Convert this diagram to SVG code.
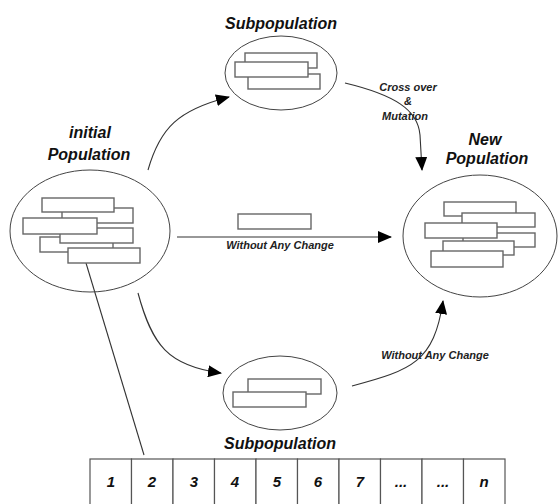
<svg xmlns="http://www.w3.org/2000/svg" width="560" height="504" viewBox="0 0 560 504">
<defs>
<style>
.ell{fill:none;stroke:#444;stroke-width:1}
.chr{fill:#fff;stroke:#666;stroke-width:1.4}
.con{fill:none;stroke:#333;stroke-width:1.1}
.lbl{font-family:"Liberation Sans",Arial,sans-serif;font-weight:bold;font-style:italic;font-size:16px;fill:#111;text-anchor:middle}
.sm{font-family:"Liberation Sans",Arial,sans-serif;font-weight:bold;font-style:italic;font-size:11px;fill:#222;text-anchor:middle}
.cell{fill:#fff;stroke:#555;stroke-width:1.2}
.num{font-family:"Liberation Sans",Arial,sans-serif;font-weight:bold;font-style:italic;font-size:15px;fill:#111;text-anchor:middle}
</style>
<marker id="arr" markerUnits="userSpaceOnUse" markerWidth="14" markerHeight="12" viewBox="0 0 14 12" refX="13" refY="6" orient="auto">
<path d="M0,0 L14,6 L0,12 Z" fill="#000"/>
</marker>
</defs>
<rect width="560" height="504" fill="#fff"/>

<g id="connectors">
<path class="con" d="M148,170 C160,128 178,110 229,97" marker-end="url(#arr)"/>
<path class="con" d="M138,293 C152,345 168,366 221,373" marker-end="url(#arr)"/>
<path class="con" d="M177,237 L391,237" marker-end="url(#arr)"/>
<path class="con" d="M345,83 C395,95 418,110 420,135 L422,170" marker-end="url(#arr)"/>
<path class="con" d="M352,386 C412,370 434,362 443,301" marker-end="url(#arr)"/>
<path class="con" d="M86,263 L144,455"/>
</g>

<g id="initial-population">
<text class="lbl" x="90" y="138">initial</text>
<text class="lbl" x="89" y="160">Population</text>
<ellipse class="ell" cx="90" cy="231" rx="80" ry="61"/>
<rect class="chr" x="62" y="208" width="71" height="15"/>
<rect class="chr" x="40" y="237" width="73" height="15"/>
<rect class="chr" x="60" y="228" width="73" height="15"/>
<rect class="chr" x="23" y="218" width="74" height="16"/>
<rect class="chr" x="42" y="198" width="72" height="14"/>
<rect class="chr" x="68" y="248" width="72" height="15"/>
</g>

<g id="subpopulation-top">
<text class="lbl" x="281" y="29">Subpopulation</text>
<ellipse class="ell" cx="281" cy="73" rx="56" ry="37"/>
<rect class="chr" x="245" y="53" width="72" height="15"/>
<rect class="chr" x="248" y="74" width="72" height="15"/>
<rect class="chr" x="235" y="62" width="73" height="15"/>
</g>

<g id="middle-chromosome">
<rect class="chr" x="238" y="214" width="73" height="15"/>
<text class="sm" x="280" y="249">Without Any Change</text>
</g>

<g id="crossover-label">
<text class="sm" x="408" y="91">Cross over</text>
<text class="sm" x="408" y="105">&amp;</text>
<text class="sm" x="405" y="120">Mutation</text>
</g>

<g id="new-population">
<text class="lbl" x="485" y="145">New</text>
<text class="lbl" x="487" y="164">Population</text>
<ellipse class="ell" cx="480" cy="236" rx="77" ry="61"/>
<rect class="chr" x="444" y="202" width="72" height="14"/>
<rect class="chr" x="462" y="213" width="73" height="14"/>
<rect class="chr" x="463" y="233" width="72" height="14"/>
<rect class="chr" x="425" y="223" width="72" height="15"/>
<rect class="chr" x="443" y="241" width="71" height="14"/>
<rect class="chr" x="431" y="251" width="72" height="16"/>
</g>

<g id="subpopulation-bottom">
<ellipse class="ell" cx="280" cy="393" rx="57" ry="37"/>
<rect class="chr" x="248" y="379" width="73" height="15"/>
<rect class="chr" x="233" y="392" width="73" height="15"/>
<text class="lbl" x="280" y="449">Subpopulation</text>
<text class="sm" x="435" y="359">Without Any Change</text>
</g>

<g id="chromosome-table">
<rect class="cell" x="90" y="459" width="41.5" height="50"/>
<rect class="cell" x="131.5" y="459" width="41.5" height="50"/>
<rect class="cell" x="173" y="459" width="41.5" height="50"/>
<rect class="cell" x="214.5" y="459" width="41.5" height="50"/>
<rect class="cell" x="256" y="459" width="41.5" height="50"/>
<rect class="cell" x="297.5" y="459" width="41.5" height="50"/>
<rect class="cell" x="339" y="459" width="41.5" height="50"/>
<rect class="cell" x="380.5" y="459" width="41.5" height="50"/>
<rect class="cell" x="422" y="459" width="41.5" height="50"/>
<rect class="cell" x="463.5" y="459" width="41.5" height="50"/>
<text class="num" x="111" y="487">1</text>
<text class="num" x="152" y="487">2</text>
<text class="num" x="194" y="487">3</text>
<text class="num" x="235" y="487">4</text>
<text class="num" x="277" y="487">5</text>
<text class="num" x="318" y="487">6</text>
<text class="num" x="360" y="487">7</text>
<text class="num" x="401" y="487">...</text>
<text class="num" x="443" y="487">...</text>
<text class="num" x="484" y="487">n</text>
</g>
</svg>
